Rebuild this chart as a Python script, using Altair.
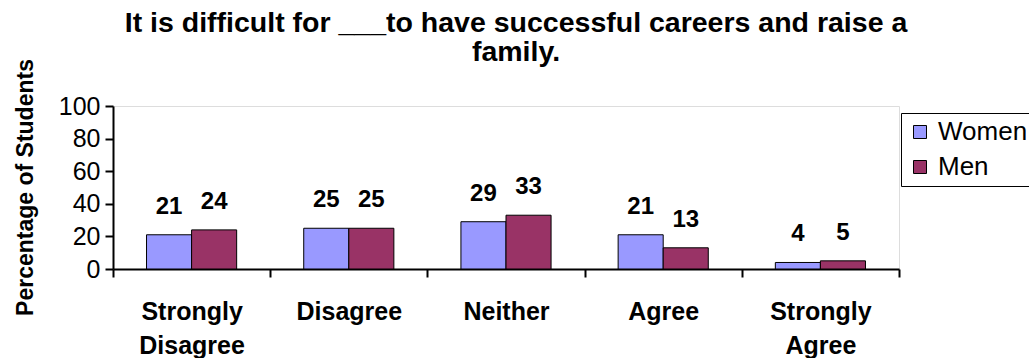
import altair as alt
import pandas as pd

categories = ["Strongly Disagree", "Disagree", "Neither", "Agree", "Strongly Agree"]
series = ["Women", "Men"]
women = [21, 25, 29, 21, 4]
men = [24, 25, 33, 13, 5]
colors = ["#9999FF", "#993366"]
title_lines = ["It is difficult for ___to have successful careers and raise a", "family."]
y_title = "Percentage of Students"
y_ticks = [0, 20, 40, 60, 80, 100]

rows = []
for i, c in enumerate(categories):
    rows.append({"cat": c, "series": "Women", "value": women[i]})
    rows.append({"cat": c, "series": "Men", "value": men[i]})
df = pd.DataFrame(rows)

FONT = "Liberation Sans"

x_enc = alt.X(
    "cat:N",
    sort=categories,
    scale=alt.Scale(paddingInner=0, paddingOuter=0),
    axis=alt.Axis(
        title=None,
        labelAngle=0,
        labelFont=FONT,
        labelFontSize=25,
        labelFontWeight="bold",
        labelColor="black",
        labelLineHeight=34,
        labelExpr="split(datum.label, ' ')",
        labelBaseline="top",
        labelPadding=22,
        tickBand="extent",
        tickSize=8,
        tickWidth=2,
        tickColor="black",
        domainColor="black",
        domainWidth=2,
        grid=False,
    ),
)
xo_enc = alt.XOffset(
    "series:N", sort=series, scale=alt.Scale(paddingInner=0, paddingOuter=0.744)
)
y_enc = alt.Y(
    "value:Q",
    scale=alt.Scale(domain=[0, 100], nice=False),
    axis=alt.Axis(
        title=y_title,
        values=y_ticks,
        titleFont=FONT,
        titleFontSize=23,
        titleFontWeight="bold",
        titleColor="black",
        titleAngle=270,
        titleX=-88,
        titleY=81,
        titleBaseline="middle",
        titleAlign="center",
        labelFont=FONT,
        labelFontSize=25,
        labelColor="black",
        labelPadding=5,
        tickSize=8,
        tickWidth=2,
        tickColor="black",
        domainColor="black",
        domainWidth=2,
        grid=False,
    ),
)

base = alt.Chart(df)

bars = base.mark_bar(stroke="black", strokeWidth=1).encode(
    x=x_enc,
    xOffset=xo_enc,
    y=y_enc,
    color=alt.Color(
        "series:N",
        sort=series,
        scale=alt.Scale(domain=series, range=colors),
        legend=alt.Legend(
            title=None,
            orient="none",
            legendX=788,
            legendY=7,
            symbolType="square",
            symbolSize=169,
            symbolStrokeColor="black",
            symbolStrokeWidth=1,
            labelFont=FONT,
            labelFontSize=26,
            labelColor="black",
            labelOffset=5,
            rowPadding=9,
            padding=6,
            strokeColor="black",
            fillColor="white",
        ),
    ),
)

labels = base.mark_text(
    dy=-28, font=FONT, fontSize=24, fontWeight="bold", color="black", baseline="middle"
).encode(x=x_enc, xOffset=xo_enc, y=y_enc, text=alt.Text("value:Q"))

chart = (
    alt.layer(bars, labels)
    .properties(
        width=786,
        height=163,
        autosize=alt.AutoSizeParams(type="none"),
        padding={"left": 113, "top": 106, "right": 130, "bottom": 89},
        title=alt.TitleParams(
            text=title_lines,
            font=FONT,
            fontSize=28.5,
            fontWeight="bold",
            color="black",
            anchor="middle",
            frame="group",
            baseline="alphabetic",
            lineHeight=29,
            dx=10,
            offset=-31,
        ),
    )
    .configure_view(stroke="#808080", strokeWidth=1)
    .configure(background="white")
)

chart.save("out.html", embed_options={"renderer": "svg", "actions": False})
